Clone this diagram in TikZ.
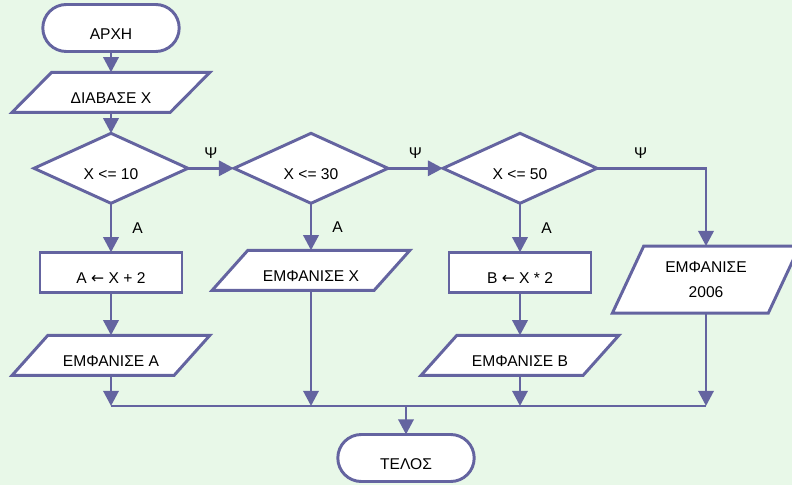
\documentclass[tikz,border=0pt]{standalone}
\usepackage{fontspec}
\setmainfont{Liberation Sans}
\newfontfamily\arrowfont{DejaVu Sans}
\usepackage{tikz}
\usetikzlibrary{positioning}
\usetikzlibrary{shapes.geometric,shapes.misc}
\usetikzlibrary{arrows.meta}
\definecolor{paleground}{RGB}{232,248,232}
\definecolor{flowblue}{RGB}{100,100,160}

\begin{document}
\begin{tikzpicture}[
font=\fontsize{11.1}{13.5}\selectfont,
base/.style={draw=flowblue, line width=2.1pt, fill=white, text height=16.5pt, text depth=0pt, inner sep=2pt, outer sep=0pt},
termnode/.style={base, rounded rectangle, minimum width=3.55cm, minimum height=1.175cm},
ionode/.style={base, trapezium, trapezium left angle=45, trapezium right angle=135, trapezium stretches=true, minimum width=4.95cm, minimum height=1cm},
decnode/.style={base, diamond, aspect=2.2, minimum width=3.85cm, minimum height=1.75cm},
procnode/.style={base, rectangle, minimum width=3.55cm, minimum height=1cm},
lbl/.style={inner sep=0pt},
line/.style={draw=flowblue, line width=2.1pt},
arr/.style={line, -{Triangle[length=0.38cm, width=0.38cm]}},
]
%Background
\fill[paleground] (0,0) rectangle (19.8,-12.125);
\useasboundingbox (0,0) rectangle (19.8,-12.125);

%Nodes
\node[termnode] (start) at (2.775,-0.7) {ΑΡΧΗ};
\node[ionode]   (read)  [below=0.52cm of start] {ΔΙΑΒΑΣΕ Χ};
\node[decnode]  (d1)    [below=0.525cm of read] {Χ <= 10};
\node[decnode]  (d2)    [right=1.15cm of d1] {Χ <= 30};
\node[decnode]  (d3)    [right=1.375cm of d2] {Χ <= 50};
\node[procnode] (calcA) [below=1.225cm of d1] {Α {\arrowfont ←} Χ + 2};
\node[ionode]   (showA) [below=1.075cm of calcA] {ΕΜΦΑΝΙΣΕ Α};
\node[ionode]   (showX) [below=1.175cm of d2] {ΕΜΦΑΝΙΣΕ Χ};
\node[procnode] (calcB) [below=1.225cm of d3] {Β {\arrowfont ←} Χ * 2};
\node[ionode]   (showB) [below=1.075cm of calcB] {ΕΜΦΑΝΙΣΕ Β};
\node[ionode, trapezium left angle=62, trapezium right angle=118, minimum width=4.7cm, minimum height=1.675cm,
      text height={}, text depth={}, align=center] (show2006) at (17.65,-6.99) {ΕΜΦΑΝΙΣΕ\\[4pt]2006};
\node[termnode] (stop)  at (10.15,-11.45) {ΤΕΛΟΣ};
\coordinate (join) at (0,-10.15);

%Lines
\draw[arr] (start.south) -- (read.north);
\draw[arr] (read.south) -- (d1.north);
\draw[arr] (d1.east) -- node[lbl, above=0.2cm] {Ψ} (d2.west);
\draw[arr] (d2.east) -- node[lbl, above=0.2cm] {Ψ} (d3.west);
\draw[arr] (d3.east) -| node[lbl, pos=0.2, above=0.2cm] {Ψ} (show2006.north);

\draw[arr] (d1.south) -- node[lbl, right=0.5cm] {Α} (calcA.north);
\draw[arr] (d2.south) -- node[lbl, right=0.5cm] {Α} (showX.north);
\draw[arr] (d3.south) -- node[lbl, right=0.5cm] {Α} (calcB.north);
\draw[arr] (calcA.south) -- (showA.north);
\draw[arr] (calcB.south) -- (showB.north);

\draw[arr] (showA.south) -- (showA.south |- join);
\draw[arr] (showX.south) -- (showX.south |- join);
\draw[arr] (showB.south) -- (showB.south |- join);
\draw[arr] (show2006.south) -- (show2006.south |- join);
\draw[line] (showA.south |- join) -- (show2006.south |- join);
\draw[arr] (stop.north |- join) -- (stop.north);
\end{tikzpicture}
\end{document}
